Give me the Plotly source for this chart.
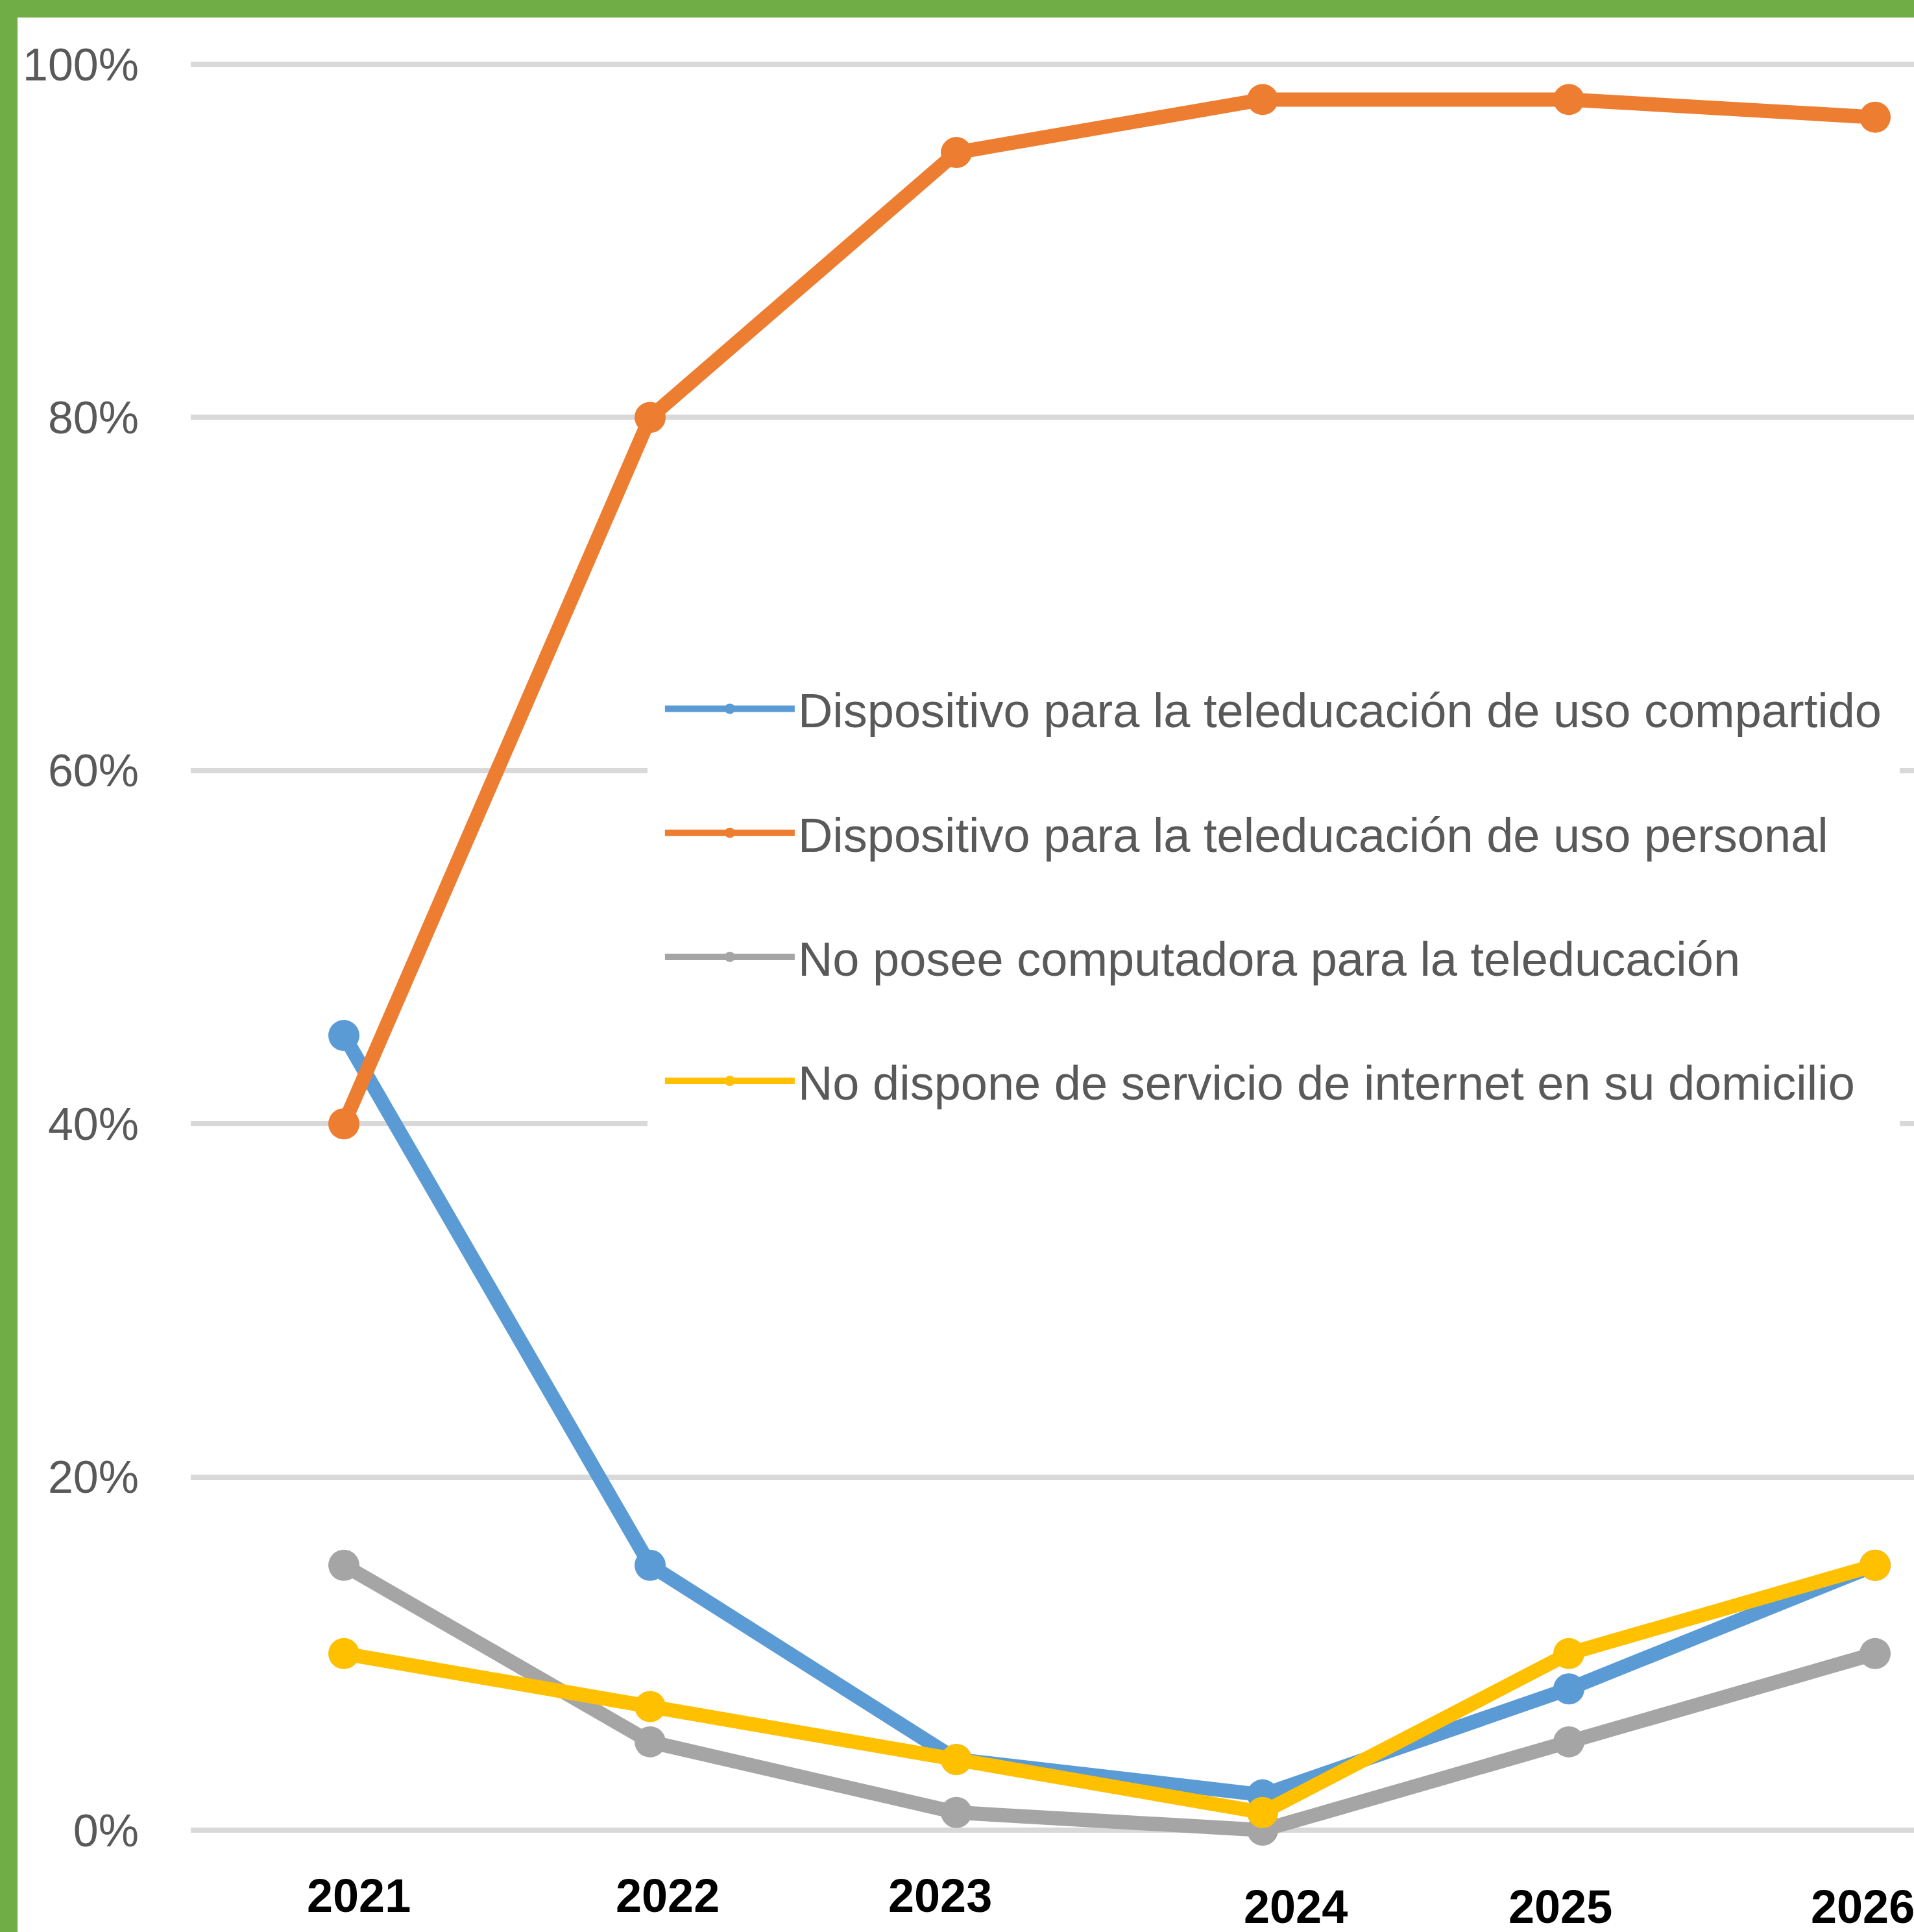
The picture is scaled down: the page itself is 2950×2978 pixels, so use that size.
import plotly.graph_objects as go

years = ["2021", "2022", "2023", "2024", "2025", "2026"]
series_names = [
    "Dispositivo para la teleducación de uso compartido",
    "Dispositivo para la teleducación de uso personal",
    "No posee computadora para la teleducación",
    "No dispone de servicio de internet en su domicilio",
]
compartido = [45, 15, 4, 2, 8, 15]
personal = [40, 80, 95, 98, 98, 97]
no_computadora = [15, 5, 1, 0, 5, 10]
no_internet = [10, 7, 4, 1, 10, 15]
y_ticks = [0, 20, 40, 60, 80, 100]
y_tick_labels = ["0%", "20%", "40%", "60%", "80%", "100%"]

colors = ["#5B9BD5", "#ED7D31", "#A5A5A5", "#FFC000"]
values = [compartido, personal, no_computadora, no_internet]

# style: small irregular offsets of the year labels in the reference (px)
label_xshift = [23, 27, -25, 51, -13, -19]
label_ypos = [-0.0066, -0.0066, -0.0066, -0.0125, -0.0125, -0.0125]

FONT = "Liberation Sans, Arial, sans-serif"

fig = go.Figure()
for i, (name, vals, col) in enumerate(zip(series_names, values, colors)):
    fig.add_trace(go.Scatter(
        x=years, y=vals, name=name, mode="lines+markers",
        line=dict(color=col, width=22),
        marker=dict(color=col, size=48, symbol="circle"),
        legendgroup=f"g{i}",
        cliponaxis=False,
    ))

W, H = 2950, 2978
L, R, T, B = 294, 0, 27, 75
pw = W - L - R
ph = H - T - B
LEG_BW = 22

fig.update_layout(
    width=W, height=H,
    margin=dict(l=L, r=R, t=T, b=B, pad=0, autoexpand=False),
    paper_bgcolor="white", plot_bgcolor="white",
    font=dict(family=FONT, size=70, color="#595959"),
    showlegend=True,
    legend=dict(
        x=0.2733 - LEG_BW / pw, xanchor="left",
        y=0.6485 + LEG_BW / ph, yanchor="top",
        bgcolor="white", borderwidth=LEG_BW, bordercolor="white",
        font=dict(family=FONT, size=74, color="#595959"),
        tracegroupgap=92, itemwidth=200,
    ),
    xaxis=dict(
        type="category", range=[-0.5, 5.127],
        showgrid=False, zeroline=False, showline=False, ticks="",
        showticklabels=False,
    ),
    yaxis=dict(
        range=[-3.012, 102.645],
        tickvals=y_ticks, ticktext=y_tick_labels,
        showgrid=True, gridcolor="#D9D9D9", gridwidth=8,
        zeroline=False, showline=False, ticks="",
        tickfont=dict(family=FONT, size=70, color="#595959"),
        ticklabelstandoff=79,
    ),
)

for idx, (yr, dx, yp) in enumerate(zip(years, label_xshift, label_ypos)):
    fig.add_annotation(
        x=idx, xref="x", y=yp, yref="paper", text=yr, showarrow=False,
        xanchor="center", yanchor="middle", xshift=dx,
        font=dict(family=FONT, size=72, color="#000000", weight="bold"),
    )

green = "#70AD47"
# left green band
fig.add_shape(type="rect", xref="paper", yref="paper", layer="above",
              x0=(0 - L) / pw - 0.01, x1=(27 - L) / pw, y0=(0 - B) / ph - 0.01, y1=1 + T / ph + 0.01,
              fillcolor=green, line=dict(width=0))
# top green band
fig.add_shape(type="rect", xref="paper", yref="paper", layer="above",
              x0=(0 - L) / pw - 0.01, x1=1.01, y0=1, y1=1 + T / ph + 0.01,
              fillcolor=green, line=dict(width=0))

fig.write_html(
    "out.html",
    config={"displayModeBar": False},
    post_script="document.body.style.margin='0';document.body.style.overflow='hidden';",
)
